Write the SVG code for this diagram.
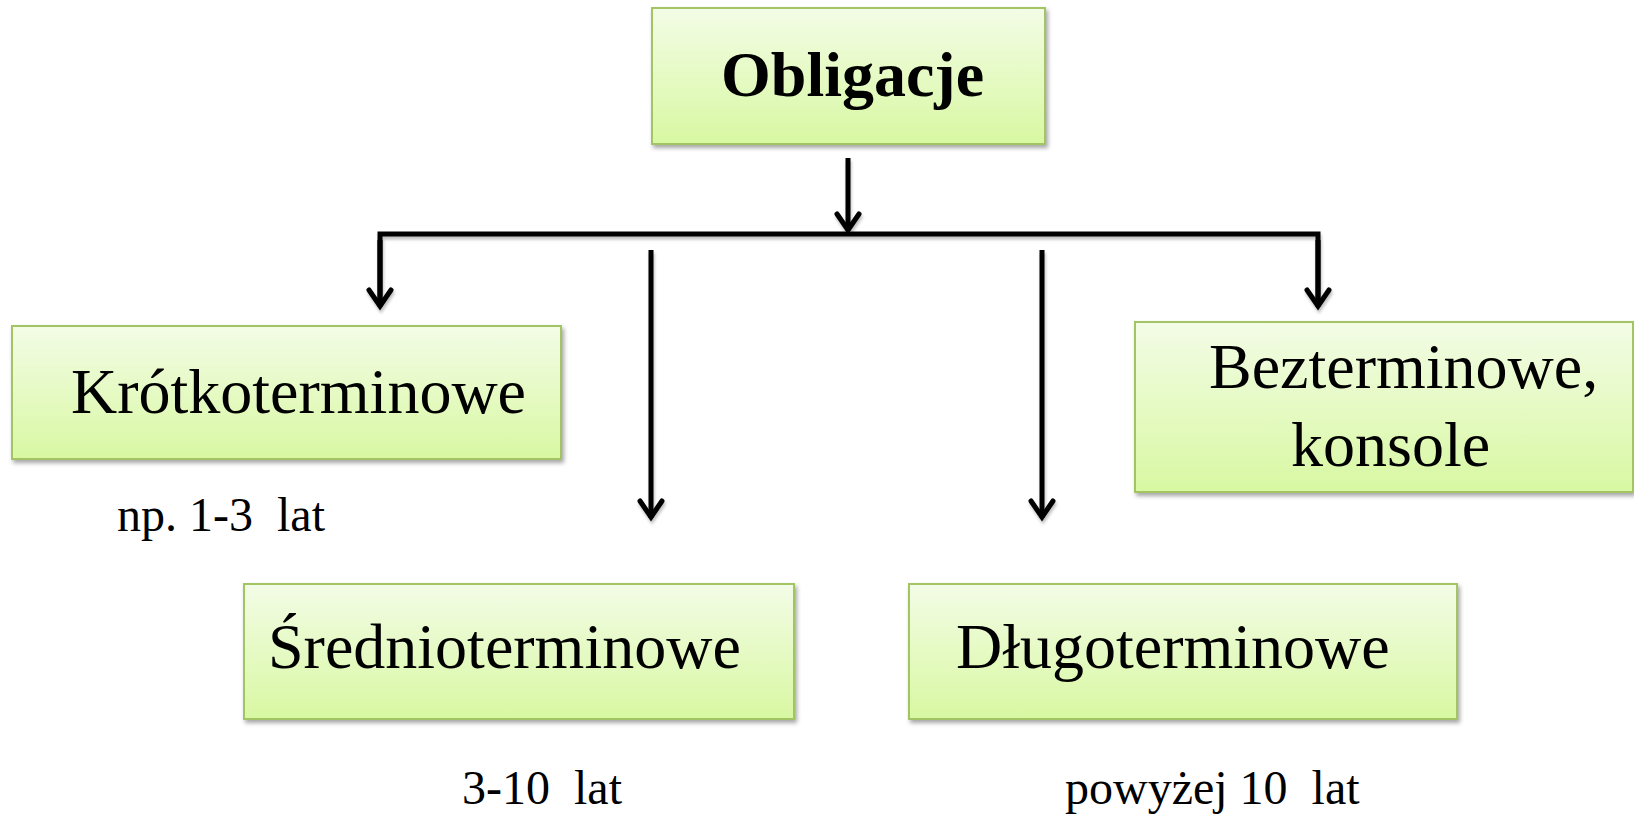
<svg xmlns="http://www.w3.org/2000/svg" width="1634" height="814" viewBox="0 0 1634 814">
<defs>
<linearGradient id="g" x1="0" y1="0" x2="0" y2="1">
<stop offset="0" stop-color="#f3fce6"/>
<stop offset="1" stop-color="#d8f8a2"/>
</linearGradient>
<filter id="sh" x="-5%" y="-5%" width="110%" height="120%">
<feDropShadow dx="2" dy="3" stdDeviation="2" flood-color="#000" flood-opacity="0.35"/>
</filter>
<filter id="lsh" x="-20%" y="-20%" width="140%" height="140%">
<feDropShadow dx="1" dy="3" stdDeviation="1.5" flood-color="#000" flood-opacity="0.25"/>
</filter>
<marker id="ah" markerUnits="userSpaceOnUse" viewBox="-24 -14 28 28" refX="0" refY="0" markerWidth="28" markerHeight="28" orient="auto" overflow="visible">
<path d="M-17,-11 L-1,0 L-17,11" fill="none" stroke="#000" stroke-width="5" stroke-linecap="round" stroke-linejoin="miter"/>
</marker>
</defs>
<style>
.box{fill:url(#g);stroke:#a2c463;stroke-width:2;filter:url(#sh)}
.t{font-family:"Liberation Serif","Times New Roman",serif;fill:#000}
.big{font-size:64px}
.small{font-size:48px}
.c{fill:none;stroke:#000;stroke-width:5}
</style>
<g id="connectors" filter="url(#lsh)">
<line class="c" x1="848" y1="158" x2="848" y2="231" marker-end="url(#ah)"/>
<polyline class="c" points="380,300 380,234 1318,234 1318,300" fill="none"/>
<line class="c" x1="380" y1="240" x2="380" y2="307" marker-end="url(#ah)"/>
<line class="c" x1="1318" y1="240" x2="1318" y2="307" marker-end="url(#ah)"/>
<line class="c" x1="651" y1="250" x2="651" y2="518" marker-end="url(#ah)"/>
<line class="c" x1="1042" y1="250" x2="1042" y2="518" marker-end="url(#ah)"/>
</g>
<g id="obligacje">
<rect class="box" x="652" y="8" width="393" height="136"/>
<text class="t big" x="721" y="96" font-weight="bold">Obligacje</text>
</g>
<g id="krotkoterminowe">
<rect class="box" x="12" y="326" width="549" height="133"/>
<text class="t big" x="71" y="413">Krótkoterminowe</text>
</g>
<g id="label-krotko">
<text class="t small" x="117" y="531" xml:space="preserve">np. 1-3  lat</text>
</g>
<g id="bezterminowe">
<rect class="box" x="1135" y="322" width="498" height="170"/>
<text class="t big" x="1209" y="388">Bezterminowe,</text>
<text class="t big" x="1291" y="466">konsole</text>
</g>
<g id="srednioterminowe">
<rect class="box" x="244" y="584" width="550" height="135"/>
<text class="t big" x="268" y="668">Średnioterminowe</text>
</g>
<g id="label-srednio">
<text class="t small" x="462" y="804" xml:space="preserve">3-10  lat</text>
</g>
<g id="dlugoterminowe">
<rect class="box" x="909" y="584" width="548" height="135"/>
<text class="t big" x="956" y="668">Długoterminowe</text>
</g>
<g id="label-dlugo">
<text class="t small" x="1065" y="804" xml:space="preserve">powyżej 10  lat</text>
</g>
</svg>
